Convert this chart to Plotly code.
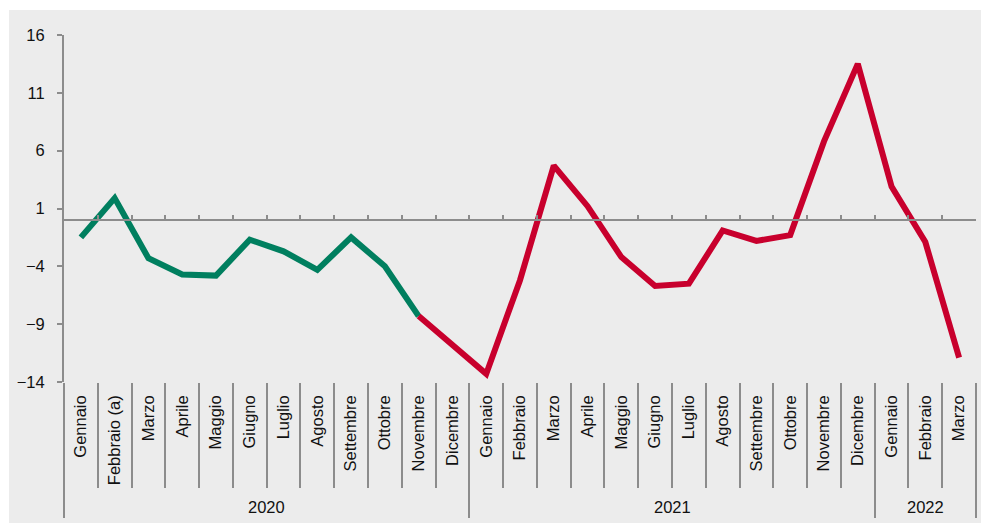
import plotly.graph_objects as go

# mesi e anni
mesi_2020 = ['Gennaio', 'Febbraio (a)', 'Marzo', 'Aprile', 'Maggio', 'Giugno',
             'Luglio', 'Agosto', 'Settembre', 'Ottobre', 'Novembre', 'Dicembre']
mesi_2021 = ['Gennaio', 'Febbraio', 'Marzo', 'Aprile', 'Maggio', 'Giugno',
             'Luglio', 'Agosto', 'Settembre', 'Ottobre', 'Novembre', 'Dicembre']
mesi_2022 = ['Gennaio', 'Febbraio', 'Marzo']
anni = ['2020', '2021', '2022']

# valori
val_2020 = [-1.5, 1.9, -3.3, -4.7, -4.8, -1.7, -2.7, -4.3, -1.5, -4.0, -8.3, -10.8]
val_2021 = [-13.3, -5.2, 4.7, 1.2, -3.2, -5.7, -5.5, -0.9, -1.8, -1.3, 6.8, 13.5]
val_2022 = [2.9, -1.9, -11.9]

etichette = mesi_2020 + mesi_2021 + mesi_2022
valori = val_2020 + val_2021 + val_2022
xs = list(range(len(valori)))
split = 10  # Novembre 2020: fine verde, inizio rosso

GREEN = '#007f5f'
RED = '#c8002d'
GREY = '#8c8c8c'
BG = '#ececec'
FONT = 'Liberation Sans, Arial, sans-serif'
FS = 16.5

fig = go.Figure()
fig.add_trace(go.Scatter(x=xs[:split + 1], y=valori[:split + 1], mode='lines',
                         line=dict(color=GREEN, width=6), showlegend=False))
fig.add_trace(go.Scatter(x=xs[split:], y=valori[split:], mode='lines',
                         line=dict(color=RED, width=6), showlegend=False))

rng = [-0.5, len(valori) - 0.5]
ymin, ymax = -14, 16

# confini anni
lens = [len(mesi_2020), len(mesi_2021), len(mesi_2022)]
confini = [-0.5]
for n in lens:
    confini.append(confini[-1] + n)
centri = [(confini[i] + confini[i + 1]) / 2 for i in range(len(lens))]

fig.update_layout(
    width=981, height=523,
    margin=dict(l=64, r=5, t=35, b=141, autoexpand=False),
    paper_bgcolor=BG,
    plot_bgcolor='rgba(0,0,0,0)',
    font=dict(family=FONT, size=FS, color='#111111'),
    xaxis=dict(range=rng, tickvals=xs, ticktext=etichette, tickangle=-90,
               ticks='', showgrid=False, zeroline=False, showline=False,
               tickfont=dict(size=FS), ticklabelstandoff=9),
    # linea dello zero con tacche
    xaxis2=dict(range=rng, overlaying='x', anchor='free',
                position=(0 - ymin) / (ymax - ymin),
                showline=True, linecolor=GREY, linewidth=2,
                tickvals=[i + 0.5 for i in xs[:-1]], ticks='inside',
                ticklen=4, tickcolor=GREY, tickwidth=2,
                showticklabels=False, showgrid=False, zeroline=False),
    # separatori mesi
    xaxis3=dict(range=rng, overlaying='x', anchor='y', side='bottom',
                tickvals=[i + 0.5 for i in xs[:-1]], ticks='outside',
                ticklen=105, tickcolor=GREY, tickwidth=1.5,
                showticklabels=False, showgrid=False, zeroline=False, showline=False),
    # separatori anni
    xaxis4=dict(range=rng, overlaying='x', anchor='y', side='bottom',
                tickvals=confini, ticks='outside',
                ticklen=135, tickcolor=GREY, tickwidth=2,
                showticklabels=False, showgrid=False, zeroline=False, showline=False),
    yaxis=dict(range=[ymin, ymax], tick0=ymin, dtick=5, ticks='outside',
               ticklen=5, tickcolor=GREY, tickwidth=2,
               showline=True, linecolor=GREY, linewidth=2,
               showgrid=False, zeroline=False, ticklabelstandoff=9,
               tickfont=dict(size=FS)),
)

# assi extra: tracce vuote per renderli
for ax in ['x2', 'x3', 'x4']:
    fig.add_trace(go.Scatter(x=[None], y=[None], xaxis=ax, yaxis='y',
                             showlegend=False, hoverinfo='skip'))

# etichette anni
for c, a in zip(centri, anni):
    fig.add_annotation(x=c, y=-0.36, xref='x', yref='paper', text=a,
                       yanchor='middle', showarrow=False, font=dict(size=FS))

# bordo bianco in alto e a sinistra
fig.add_shape(type='rect', xref='paper', yref='paper', layer='below',
              x0=-0.1, x1=1.1, y0=(382 - 10) / 347, y1=1.2,
              fillcolor='white', line=dict(width=0))
fig.add_shape(type='rect', xref='paper', yref='paper', layer='below',
              x0=-0.1, x1=-55 / 912, y0=-0.5, y1=1.2,
              fillcolor='white', line=dict(width=0))

# pagina senza margini e senza barre di scorrimento
fig.write_html("out.html", config=dict(displayModeBar=False),
               post_script="document.body.style.margin='0';"
                           "document.body.style.overflow='hidden';")
